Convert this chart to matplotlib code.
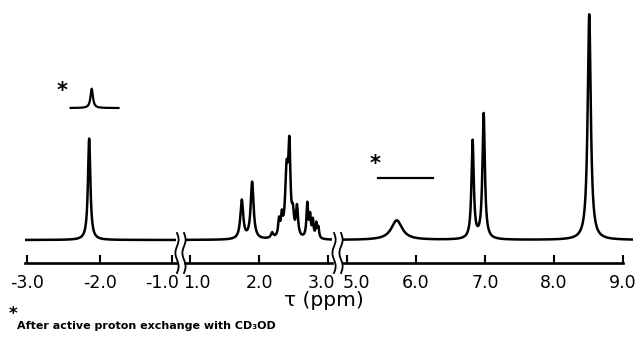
import numpy as np
import matplotlib
matplotlib.use("Agg")
import matplotlib.pyplot as plt
from matplotlib.transforms import Affine2D, ScaledTranslation

# ---------------- data ----------------
# peak positions (tau, ppm), heights (arb. units, tallest = 100), half-widths (ppm)
seg1_pos = [-2.145]
seg1_hgt = [44.5]
seg1_wid = [0.02]

seg2_pos = [1.75, 1.90, 2.19, 2.29, 2.33, 2.40, 2.44, 2.49, 2.55, 2.70, 2.74, 2.78, 2.83, 2.86]
seg2_hgt = [17.0, 25.0, 2.3, 7.0, 8.0, 28.0, 36.0, 8.5, 13.0, 15.0, 9.0, 7.5, 6.2, 4.5]
seg2_wid = [0.025, 0.025, 0.02, 0.015, 0.015, 0.025, 0.018, 0.018, 0.018, 0.015, 0.013, 0.013, 0.013, 0.013]

seg3_pos = [5.72, 6.82, 6.98, 8.51]
seg3_hgt = [8.6, 43.0, 55.0, 99.0]
seg3_wid = [0.095, 0.02, 0.021, 0.027]

# insets: spectrum after exchange with CD3OD
inset1_range = [-2.40, -1.74]
inset1_base = 57.9
inset1_pos = [-2.11]
inset1_hgt = [8.5]
inset1_wid = [0.02]

inset2_range = [5.45, 6.25]
inset2_base = 27.2

seg_ranges = [(-3.03, -0.95), (0.93, 3.06), (4.94, 9.15)]
seg_ticks = [[-3.0, -2.0, -1.0], [1.0, 2.0, 3.0], [5.0, 6.0, 7.0, 8.0, 9.0]]
seg_ticklabels = [["-3.0", "-2.0", "-1.0"], ["1.0", "2.0", "3.0"],
                  ["5.0", "6.0", "7.0", "8.0", "9.0"]]
xlabel = "τ (ppm)"
footnote = "After active proton exchange with CD₃OD"


def lorentz_sum(x, pos, hgt, wid):
    y = np.zeros_like(x)
    for p, h, w in zip(pos, hgt, wid):
        y += h / (1.0 + ((x - p) / w) ** 2)
    return y


# ---------------- figure ----------------
W, H = 638, 338
fig = plt.figure(figsize=(W / 100, H / 100), dpi=100)

px_left = [25.0, 185.2, 342.9]
px_per_ppm = [72.5, 69.0, 69.0]
ax_bottom_px = 263.0
ylim = (-10.1, 105.3)

# horizontal nudges (pixels) of tick labels next to the axis breaks
label_shift = [[0, 0, -10], [7, 0, -7], [9, 0, 0, 0, 0]]

segs = [(seg1_pos, seg1_hgt, seg1_wid), (seg2_pos, seg2_hgt, seg2_wid),
        (seg3_pos, seg3_hgt, seg3_wid)]
axes = []
for i, (rng, (pos, hgt, wid)) in enumerate(zip(seg_ranges, segs)):
    width_px = (rng[1] - rng[0]) * px_per_ppm[i]
    ax = fig.add_axes([px_left[i] / W, (H - ax_bottom_px) / H,
                       width_px / W, ax_bottom_px / H])
    ax.set_xlim(*rng)
    ax.set_ylim(*ylim)
    x = np.linspace(rng[0], rng[1], 4000)
    ax.plot(x, lorentz_sum(x, pos, hgt, wid), color="black", lw=1.8,
            solid_joinstyle="round")
    for s in ["top", "left", "right"]:
        ax.spines[s].set_visible(False)
    ax.spines["bottom"].set_linewidth(1.9)
    ax.set_yticks([])
    ax.set_xticks(seg_ticks[i])
    ax.set_xticklabels(seg_ticklabels[i])
    ax.tick_params(axis="x", direction="in", length=6, width=1.5,
                   labelsize=12.5, pad=8)
    for lab, dx in zip(ax.get_xticklabels(), label_shift[i]):
        if dx:
            lab.set_transform(lab.get_transform() +
                              ScaledTranslation(dx / 100, 0, fig.dpi_scale_trans))
    ax.patch.set_alpha(0)
    axes.append(ax)

axes[2].spines["bottom"].set_bounds(seg_ranges[2][0], 9.0)

# inset traces
ax1, ax2, ax3 = axes
xi = np.linspace(inset1_range[0], inset1_range[1], 400)
ax1.plot(xi, inset1_base + lorentz_sum(xi, inset1_pos, inset1_hgt, inset1_wid),
         color="black", lw=1.6)
ax1.text(-2.52, 65.4, "*", fontsize=15, fontweight="bold", ha="center", va="center")

xi2 = np.linspace(inset2_range[0], inset2_range[1], 50)
ax3.plot(xi2, np.full_like(xi2, inset2_base), color="black", lw=1.6)
ax3.text(5.41, 33.3, "*", fontsize=15, fontweight="bold", ha="center", va="center")

# break marks (wavy double lines) between segments, in pixel coordinates
to_fig = Affine2D().scale(1.0 / W, -1.0 / H).translate(0, 1.0) + fig.transFigure
yy = np.linspace(233, 273, 80)
for k in range(2):
    right_k = px_left[k] + (seg_ranges[k][1] - seg_ranges[k][0]) * px_per_ppm[k]
    xc = (right_k + px_left[k + 1]) / 2
    for dx in (-3.5, 3.5):
        xx = xc + dx + 1.6 * np.sin((yy - 233) / 40 * 2 * np.pi * 1.5)
        fig.add_artist(plt.Line2D(xx, yy, transform=to_fig, color="black", lw=1.3))

fig.text(324 / W, 1 - 300 / H, xlabel, fontsize=14.5, ha="center", va="center")
fig.text(13 / W, 1 - 314 / H, "*", fontsize=12, fontweight="bold", ha="center", va="center")
fig.text(17 / W, 1 - 326 / H, footnote, fontsize=8, fontweight="bold", ha="left", va="center")

fig.savefig("out.png", dpi=100)
